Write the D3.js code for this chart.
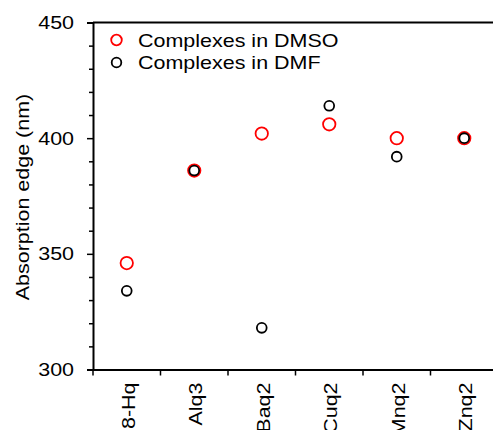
<!DOCTYPE html>
<html>
<head>
<meta charset="utf-8">
<script src="https://cdn.jsdelivr.net/npm/d3@7"></script>
<style>
  body { margin: 0; background: #fff; }
  svg { display: block; font-family: Arial, "Liberation Sans", sans-serif; }
</style>
</head>
<body>
<svg id="chart" width="493" height="430"></svg>
<script>
// chart data
const categories = ['8-Hq', 'Alq3', 'Baq2', 'Cuq2', 'Mnq2', 'Znq2'];
const dmso = [346, 386, 402, 406, 400, 400];
const dmf = [334, 386, 318, 414, 392, 400];
const yMajorTicks = [300, 350, 400, 450];
const yMinorTicks = [310, 320, 330, 340, 360, 370, 380, 390, 410, 420, 430, 440];
const legendLabels = ['Complexes in DMSO', 'Complexes in DMF'];

const svg = d3.select('#chart');
const plotLeft = 93, plotRight = 498, plotTop = 22.5, plotBottom = 369.5;
const fontSize = 19;
const widen = 1.13; // the source text is a bit wider than Arial

// stretch text along its direction
function stretch(sel) {
  sel.each(function () {
    const len = this.getComputedTextLength();
    d3.select(this)
      .attr('textLength', len * widen)
      .attr('lengthAdjust', 'spacingAndGlyphs');
  });
}

const x = d3.scaleBand().domain(categories).range([plotLeft, plotRight]);
const y = d3.scaleLinear().domain([300, 450]).range([plotBottom, plotTop]);

// frame
svg.append('path')
  .attr('d', `M${plotLeft},${plotTop}H${plotRight}V${plotBottom}`)
  .attr('fill', 'none')
  .attr('stroke', '#000')
  .attr('stroke-width', 2);

// minor y ticks
const yMinor = svg.append('g')
  .attr('transform', `translate(${plotLeft},0)`)
  .call(d3.axisLeft(y).tickValues(yMinorTicks).tickSize(4).tickFormat(''));
yMinor.select('.domain').remove();
yMinor.selectAll('line').attr('stroke-width', 1.5);

// major y ticks and labels
const yAxis = svg.append('g')
  .attr('transform', `translate(${plotLeft},0)`)
  .call(d3.axisLeft(y).tickValues(yMajorTicks).tickSize(6).tickPadding(13));
yAxis.select('.domain').attr('stroke-width', 2);
yAxis.selectAll('line').attr('stroke-width', 1.5);
yAxis.selectAll('text')
  .attr('font-size', fontSize)
  .attr('font-family', 'Arial, "Liberation Sans", sans-serif')
  .attr('fill', '#000')
  .call(stretch);

// x axis: ticks on band boundaries
const xAxis = svg.append('g')
  .attr('transform', `translate(0,${plotBottom})`)
  .call(d3.axisBottom(x).tickSize(0).tickPadding(0));
xAxis.select('.domain').attr('stroke-width', 2);
xAxis.selectAll('.tick text')
  .attr('font-size', fontSize)
  .attr('font-family', 'Arial, "Liberation Sans", sans-serif')
  .attr('fill', '#000')
  .attr('text-anchor', 'end')
  .attr('transform', 'rotate(-90)')
  .attr('x', -13)
  .attr('y', 1)
  .attr('dy', '0.36em')
  .call(stretch);

const bounds = categories.map((c) => x(c)).concat([plotRight]);
svg.append('g').selectAll('line').data(bounds).enter()
  .append('line')
  .attr('x1', (d) => d)
  .attr('x2', (d) => d)
  .attr('y1', plotBottom)
  .attr('y2', plotBottom + 6)
  .attr('stroke', '#000')
  .attr('stroke-width', 1.5);

// y axis title
svg.append('text')
  .attr('transform', 'translate(29,197) rotate(-90)')
  .attr('text-anchor', 'middle')
  .attr('font-size', fontSize)
  .text('Absorption edge (nm)')
  .call(stretch);

const cx = (i) => x(categories[i]) + x.bandwidth() / 2;

// DMSO series
svg.append('g').selectAll('circle').data(dmso).enter()
  .append('circle')
  .attr('cx', (d, i) => cx(i))
  .attr('cy', (d) => y(d))
  .attr('r', 6.2)
  .attr('fill', 'none')
  .attr('stroke', '#ff0000')
  .attr('stroke-width', 1.8);

// DMF series
svg.append('g').selectAll('circle').data(dmf).enter()
  .append('circle')
  .attr('cx', (d, i) => cx(i))
  .attr('cy', (d) => y(d))
  .attr('r', 4.9)
  .attr('fill', 'none')
  .attr('stroke', '#000')
  .attr('stroke-width', 1.8);

// legend
const legendColors = ['#ff0000', '#000'];
const legendR = [5.3, 4.8];
const legend = svg.append('g');
legendLabels.forEach((label, i) => {
  const ly = 40 + i * 22.5;
  legend.append('circle')
    .attr('cx', 116.5)
    .attr('cy', ly)
    .attr('r', legendR[i])
    .attr('fill', 'none')
    .attr('stroke', legendColors[i])
    .attr('stroke-width', 1.8);
  legend.append('text')
    .attr('x', 138)
    .attr('y', ly)
    .attr('dy', '0.35em')
    .attr('font-size', fontSize)
    .text(label)
    .call(stretch);
});
</script>
</body>
</html>
